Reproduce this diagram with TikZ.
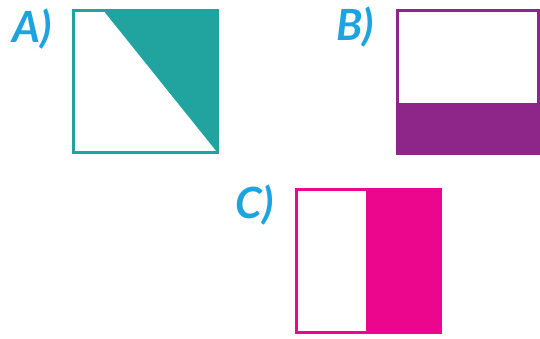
\documentclass[tikz,border=0pt]{standalone}
\usepackage{fontspec}
\setmainfont{Lato}
\definecolor{tealA}{HTML}{21A3A0}
\definecolor{purpB}{HTML}{8E2689}
\definecolor{magC}{HTML}{EC068D}
\definecolor{lblue}{HTML}{1DA4E0}
\begin{document}
\begin{tikzpicture}[x=1pt,y=-1pt,
  lbl/.style={text=lblue,font=\fontsize{43}{43}\selectfont\itshape\bfseries,inner sep=0pt,anchor=center},
  frame/.style={line width=3pt}]
\useasboundingbox (0,0) rectangle (540,338);
% A
\coordinate (a1) at (73,10);
\coordinate (a2) at (217,152);
\fill[tealA] (103,10) -- (217,10) -- (217,152) -- cycle;
\draw[frame,tealA] (a1) rectangle (a2);
\node[lbl] (la) at (32,29) {A)};
% B
\coordinate (b1) at (397,10);
\coordinate (b2) at (538,153);
\fill[purpB] (397,103) rectangle (b2);
\draw[frame,purpB] (b1) rectangle (b2);
\node[lbl] (lb) at (355,27) {B)};
% C
\coordinate (c1) at (296,189);
\coordinate (c2) at (440,332);
\fill[magC] (366,189) rectangle (c2);
\draw[frame,magC] (c1) rectangle (c2);
\node[lbl] (lc) at (255,205) {C)};
\end{tikzpicture}
\end{document}
